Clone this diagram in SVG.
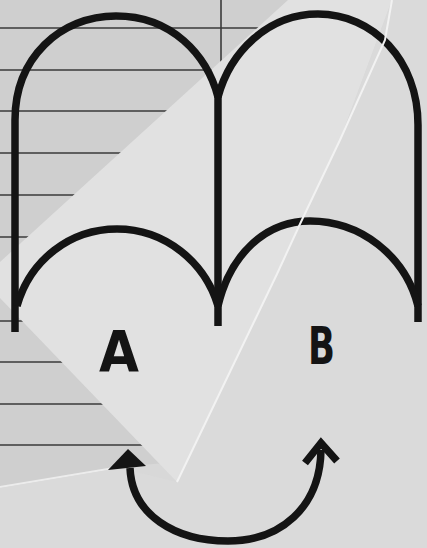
<svg xmlns="http://www.w3.org/2000/svg" width="427" height="548" viewBox="0 0 427 548">
  <defs>
    <style>
      .ink { fill: none; stroke: #141414; stroke-width: 7.5; stroke-linejoin: round; }
      .rule { stroke: #3a3a3a; stroke-width: 1.6; }
      .lbl { font-family: "DejaVu Sans", "Liberation Sans", sans-serif; font-weight: bold; fill: #141414; }
    </style>
    <clipPath id="linedClip">
      <polygon points="0,0 292,0 230,300 165,463 120,467 0,487"/>
    </clipPath>
  </defs>

  <!-- background sheets -->
  <rect x="0" y="0" width="427" height="548" fill="#d8d8d8"/>
  <polygon points="0,0 292,0 230,300 165,463 120,467 0,487" fill="#cfcfcf"/>
  <g clip-path="url(#linedClip)">
    <line class="rule" x1="0" y1="28" x2="300" y2="28"/>
    <line class="rule" x1="0" y1="70" x2="300" y2="70"/>
    <line class="rule" x1="0" y1="111" x2="300" y2="111"/>
    <line class="rule" x1="0" y1="153" x2="300" y2="153"/>
    <line class="rule" x1="0" y1="195" x2="300" y2="195"/>
    <line class="rule" x1="0" y1="237" x2="300" y2="237"/>
    <line class="rule" x1="0" y1="279" x2="300" y2="279"/>
    <line class="rule" x1="0" y1="321" x2="300" y2="321"/>
    <line class="rule" x1="0" y1="362" x2="300" y2="362"/>
    <line class="rule" x1="0" y1="404" x2="300" y2="404"/>
    <line class="rule" x1="0" y1="445" x2="300" y2="445"/>
    <line class="rule" x1="221" y1="0" x2="221" y2="300"/>
  </g>
  <line x1="0" y1="487" x2="120" y2="467" stroke="#ececec" stroke-width="2"/>
  <polygon points="288,0 0,262 0,298 177,482 277,274 300,224 340,140 392,0" fill="#e1e1e1"/>
  <polygon points="392,0 427,0 427,548 0,548 0,488 120,468 177,482 277,274 300,224 340,140" fill="#dadada"/>

  <!-- arches (the two outlined regions) -->
  <g id="arch-A">
    <path class="ink" d="M15,332 V120 C15,58 60,16 116,16 C172,16 207,55 218,97"/>
    <path class="ink" d="M17,306 C30,260 70,229 117,229 C165,229 205,262 218,306"/>
  </g>
  <g id="arch-B">
    <path class="ink" d="M218,97 C230,52 268,14 318,14 C373,14 418,60 418,125 V322"/>
    <path class="ink" d="M218,306 C230,255 265,221 310,221 C360,221 405,255 418,306"/>
    <path class="ink" d="M218,97 V326"/>
  </g>

  <!-- crease of the photo -->
  <polyline points="392,0 385,40 340,140 300,224 277,274 177,482" fill="none" stroke="#f2f2f2" stroke-width="2"/>

  <g id="label-A">
    <text class="lbl" x="99" y="372" font-size="57" textLength="40" lengthAdjust="spacingAndGlyphs">A</text>
  </g>
  <g id="label-B">
    <text class="lbl" x="308" y="364" font-size="51" textLength="27" lengthAdjust="spacingAndGlyphs">B</text>
  </g>

  <!-- connector -->
  <g id="connectors">
    <path d="M130,468 C132,515 175,541 228,541 C280,541 320,508 321,450" fill="none" stroke="#141414" stroke-width="7.5"/>
    <polygon points="128,449 108,470 146,466" fill="#141414"/>
    <polyline points="305,463 321,443 337,461" fill="none" stroke="#141414" stroke-width="7.5" stroke-linejoin="miter"/>
  </g>
</svg>
